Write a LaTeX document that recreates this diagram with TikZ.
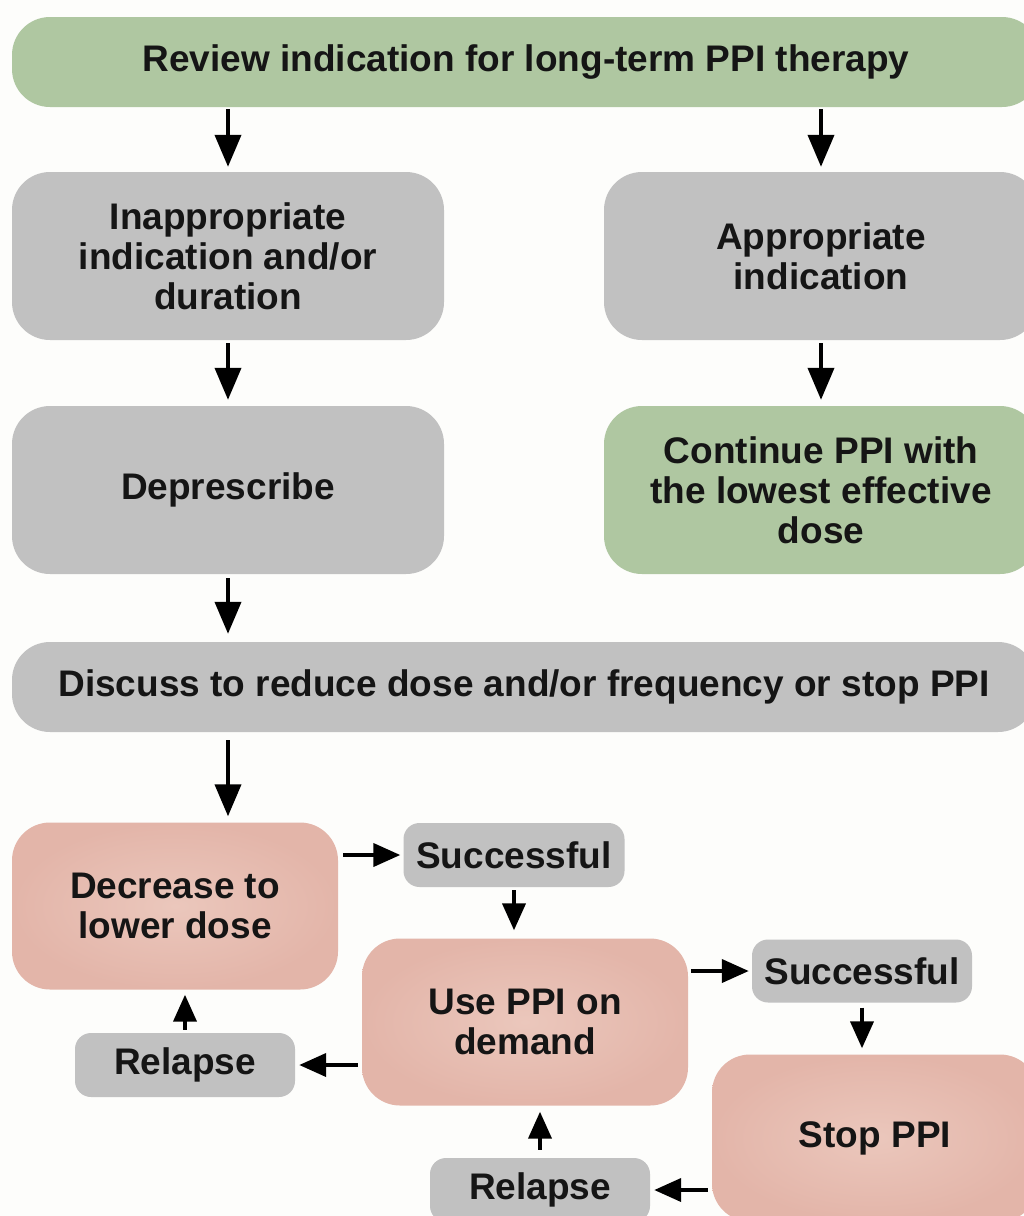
\documentclass[tikz,border=0pt]{standalone}
\usepackage{fontspec}
\setmainfont{Liberation Sans}
\usetikzlibrary{arrows.meta}
\definecolor{bgc}{HTML}{FDFDFB}
\definecolor{greenc}{HTML}{AFC7A1}
\definecolor{grayc}{HTML}{C1C1C1}
\definecolor{pinkc}{HTML}{E3B5A9}
\definecolor{pinkin}{HTML}{EBC7BC}
\definecolor{textc}{HTML}{151515}
\begin{document}
\begin{tikzpicture}[x=1pt,y=-1pt,
  base/.style={rounded corners=38pt, align=center, inner sep=0pt,
    font=\fontsize{37}{40}\selectfont\bfseries, text=textc},
  greenbox/.style={base, fill=greenc},
  graybox/.style={base, fill=grayc},
  pinkbox/.style={base, shading=radial, inner color=pinkin, outer color=pinkc},
  smallbox/.style={graybox, rounded corners=16pt},
  bigarrow/.style={line width=4pt, -{Triangle[length=32pt,width=26pt]}},
  smallarrow/.style={line width=4pt, -{Triangle[length=27pt,width=23pt]}}
]
\useasboundingbox (0,0) rectangle (1024,1216);
\fill[bgc] (0,0) rectangle (1024,1216);
\clip (0,0) rectangle (1024,1216);

\node[greenbox, minimum width=1028pt, minimum height=90pt] (top) at (526,62) {Review indication for long-term PPI therapy};
\node[graybox, minimum width=432pt, minimum height=168pt] (inapp) at (228,256) {Inappropriate\\indication and/or\\duration};
\node[graybox, minimum width=434pt, minimum height=168pt] (app) at (821,256) {Appropriate\\indication};
\node[graybox, minimum width=432pt, minimum height=168pt] (depr) at (228,490) {Deprescribe};
\node[greenbox, minimum width=434pt, minimum height=168pt] (cont) at (821,490) {Continue PPI with\\the lowest effective\\dose};
\node[graybox, minimum width=1024pt, minimum height=90pt] (disc) at (524,687) {Discuss to reduce dose and/or frequency or stop PPI};

\node[pinkbox, minimum width=326pt, minimum height=167pt] (decr) at (175,906) {Decrease to\\lower dose};
\node[smallbox, minimum width=221pt, minimum height=64pt] (succa) at (514,855) {Successful};
\node[pinkbox, minimum width=326pt, minimum height=167pt] (use) at (525,1022) {Use PPI on\\demand};
\node[smallbox, minimum width=220pt, minimum height=63pt] (succb) at (862,971) {Successful};
\node[pinkbox, minimum width=326pt, minimum height=167pt] (stop) at (875,1138) {Stop PPI};
\node[smallbox, minimum width=220pt, minimum height=64pt] (rela) at (185,1065) {Relapse};
\node[smallbox, minimum width=220pt, minimum height=64pt] (relb) at (540,1190) {Relapse};

\draw[bigarrow, shorten <=2pt, shorten >=5pt] (top.south -| inapp.north) -- (inapp.north);
\draw[bigarrow, shorten <=2pt, shorten >=5pt] (top.south -| app.north) -- (app.north);
\draw[bigarrow, shorten <=3pt, shorten >=6pt] (inapp.south) -- (depr.north);
\draw[bigarrow, shorten <=3pt, shorten >=6pt] (app.south) -- (cont.north);
\draw[bigarrow, shorten <=4pt, shorten >=8pt] (depr.south) -- (disc.north -| depr.south);
\draw[bigarrow, shorten <=8pt, shorten >=6pt] (disc.south -| inapp.south) -- (decr.north -| inapp.south);

\draw[smallarrow, shorten <=5pt, shorten >=3pt] (decr.east |- succa.west) -- (succa.west);
\draw[smallarrow, shorten <=3pt, shorten >=8pt] (succa.south) -- (succa.south |- use.north);
\draw[smallarrow, shorten <=3pt, shorten >=3pt] (use.east |- succb.west) -- (succb.west);
\draw[smallarrow, shorten <=5pt, shorten >=6pt] (succb.south) -- (succb.south |- stop.north);
\draw[smallarrow, shorten <=4pt, shorten >=4pt] (use.west |- rela.east) -- (rela.east);
\draw[smallarrow, shorten <=3pt, shorten >=5pt] (rela.north) -- (rela.north |- decr.south);
\draw[smallarrow, shorten <=4pt, shorten >=4pt] (stop.west |- relb.east) -- (relb.east);
\draw[smallarrow, shorten <=8pt, shorten >=6pt] (relb.north) -- (relb.north |- use.south);
\end{tikzpicture}
\end{document}
